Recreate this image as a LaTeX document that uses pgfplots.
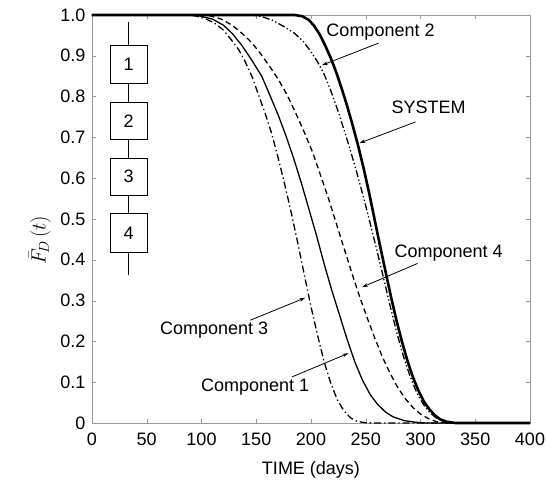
\documentclass[border=0pt]{standalone}
\usepackage{fontspec}
\setmainfont{Liberation Sans}
\usepackage{pgfplots}
\pgfplotsset{compat=1.18}
\usetikzlibrary{arrows.meta}
\tikzset{lbl/.style={font=\fontsize{18bp}{21bp}\selectfont}}

\begin{document}
\begin{tikzpicture}[>={Stealth[length=6bp,width=3.5bp]}]
\begin{axis}[name=ax,
  width=438bp,height=408bp,scale only axis,
  xmin=0,xmax=400,ymin=0,ymax=1,clip=false,
  xtick={0,50,...,400},
  ytick={0,0.1,0.2,0.3,0.4,0.5,0.6,0.7,0.8,0.9,1},
  yticklabels={0,0.1,0.2,0.3,0.4,0.5,0.6,0.7,0.8,0.9,1.0},
  tick align=inside,tick pos=both,major tick length=4bp,
  axis line style={gray!80},major tick style={gray!80},
  /pgf/number format/assume math mode=true,
  every tick label/.append style={font=\fontsize{18bp}{21bp}\selectfont},
  xticklabel style={yshift=-6bp},
  yticklabel style={xshift=-3bp},
  xlabel={TIME (days)},
  xlabel style={font=\fontsize{18bp}{21bp}\selectfont,at={(rel axis cs:0.5,-0.116)},anchor=center},
  ylabel={$\bar{F}_{\!D}\,(t)$},
  ylabel style={font=\fontsize{21bp}{25bp}\selectfont,at={(rel axis cs:-0.119,0.448)},anchor=center}
]
% Component 3
\addplot[black,line width=1.3bp,dash pattern=on 7bp off 3bp on 1.3bp off 3bp] coordinates {
(0,1)(90,1)(102,0.993)(112,0.98)(120,0.963)(127,0.94)(134,0.915)(140,0.885)(146,0.85)(152,0.805)(158,0.76)(164,0.71)(170,0.65)(176,0.585)(182,0.515)(188,0.44)(194,0.362)(200,0.285)(206,0.215)(212,0.15)(218,0.098)(224,0.057)(230,0.03)(236,0.013)(242,0.004)(250,0.0005)(260,0)(400,0)};
% Component 1
\addplot[black,line width=1.3bp] coordinates {
(0,1)(95,1)(110,0.99)(120,0.975)(128,0.955)(137,0.925)(146,0.889)(155,0.85)(163,0.8)(170,0.755)(177,0.705)(184,0.65)(191,0.59)(198,0.525)(205,0.46)(212,0.39)(219,0.325)(226,0.265)(233,0.205)(240,0.15)(247,0.105)(254,0.07)(261,0.045)(268,0.027)(275,0.015)(285,0.006)(295,0.002)(305,0)(400,0)};
% Component 4
\addplot[black,line width=1.3bp,dash pattern=on 5.5bp off 3.5bp] coordinates {
(0,1)(105,1)(118,0.99)(128,0.975)(137,0.955)(146,0.932)(154,0.905)(162,0.875)(170,0.843)(178,0.805)(186,0.76)(194,0.712)(202,0.66)(209,0.605)(216,0.55)(223,0.49)(230,0.43)(237,0.37)(244,0.313)(251,0.26)(258,0.21)(265,0.163)(272,0.123)(279,0.088)(286,0.06)(293,0.038)(300,0.022)(307,0.011)(315,0.003)(325,0)(400,0)};
% Component 2
\addplot[black,line width=1.3bp,dash pattern=on 7bp off 2.5bp on 1.3bp off 2.5bp on 1.3bp off 2.5bp] coordinates {
(0,1)(145,1)(155,0.996)(165,0.987)(175,0.972)(185,0.955)(193,0.935)(200,0.91)(206,0.885)(212,0.855)(218,0.815)(224,0.77)(230,0.72)(236,0.668)(242,0.612)(248,0.553)(254,0.49)(260,0.425)(266,0.358)(272,0.29)(278,0.225)(284,0.167)(290,0.118)(296,0.078)(302,0.048)(308,0.027)(314,0.013)(320,0.005)(328,0.001)(335,0)(400,0)};
% System
\addplot[black,line width=2.6bp] coordinates {
(0,1)(185,1)(192,0.997)(198,0.988)(203,0.973)(208,0.952)(213,0.925)(218,0.895)(223,0.86)(228,0.82)(233,0.777)(238,0.73)(243,0.68)(248,0.625)(253,0.565)(258,0.5)(263,0.435)(268,0.372)(273,0.31)(278,0.252)(283,0.2)(288,0.153)(293,0.113)(298,0.08)(303,0.053)(308,0.034)(313,0.019)(318,0.009)(324,0.003)(332,0)(400,0)};

% block diagram
\draw[black,line width=0.8bp] (axis cs:33,0.983) -- (axis cs:33,0.362);
\draw[black,line width=0.8bp,fill=white] (axis cs:16.5,0.833) rectangle (axis cs:50.3,0.926);
\node[lbl] at (axis cs:33.4,0.8795) {1};
\draw[black,line width=0.8bp,fill=white] (axis cs:16.5,0.695) rectangle (axis cs:50.3,0.786);
\node[lbl] at (axis cs:33.4,0.7405) {2};
\draw[black,line width=0.8bp,fill=white] (axis cs:16.5,0.558) rectangle (axis cs:50.3,0.649);
\node[lbl] at (axis cs:33.4,0.6035) {3};
\draw[black,line width=0.8bp,fill=white] (axis cs:16.5,0.418) rectangle (axis cs:50.3,0.514);
\node[lbl] at (axis cs:33.4,0.466) {4};

% annotations
\node[lbl] at (axis cs:263.5,0.958) {Component 2};
\draw[->,line width=0.8bp] (axis cs:261.7,0.931) -- (axis cs:210,0.877);
\node[lbl] at (axis cs:307.4,0.7745) {SYSTEM};
\draw[->,line width=0.8bp] (axis cs:295.5,0.738) -- (axis cs:244.3,0.686);
\node[lbl] at (axis cs:325.7,0.416) {Component 4};
\draw[->,line width=0.8bp] (axis cs:297.3,0.391) -- (axis cs:246.7,0.333);
\node[lbl] at (axis cs:111.6,0.227) {Component 3};
\draw[->,line width=0.8bp] (axis cs:144.6,0.252) -- (axis cs:194.9,0.307);
\node[lbl] at (axis cs:149,0.0875) {Component 1};
\draw[->,line width=0.8bp] (axis cs:182.7,0.113) -- (axis cs:234.2,0.171);
\end{axis}
\pgfresetboundingbox
\path ([shift={(-92bp,-56.3bp)}]ax.south west) rectangle ([shift={(16bp,15bp)}]ax.north east);
\end{tikzpicture}
\end{document}
